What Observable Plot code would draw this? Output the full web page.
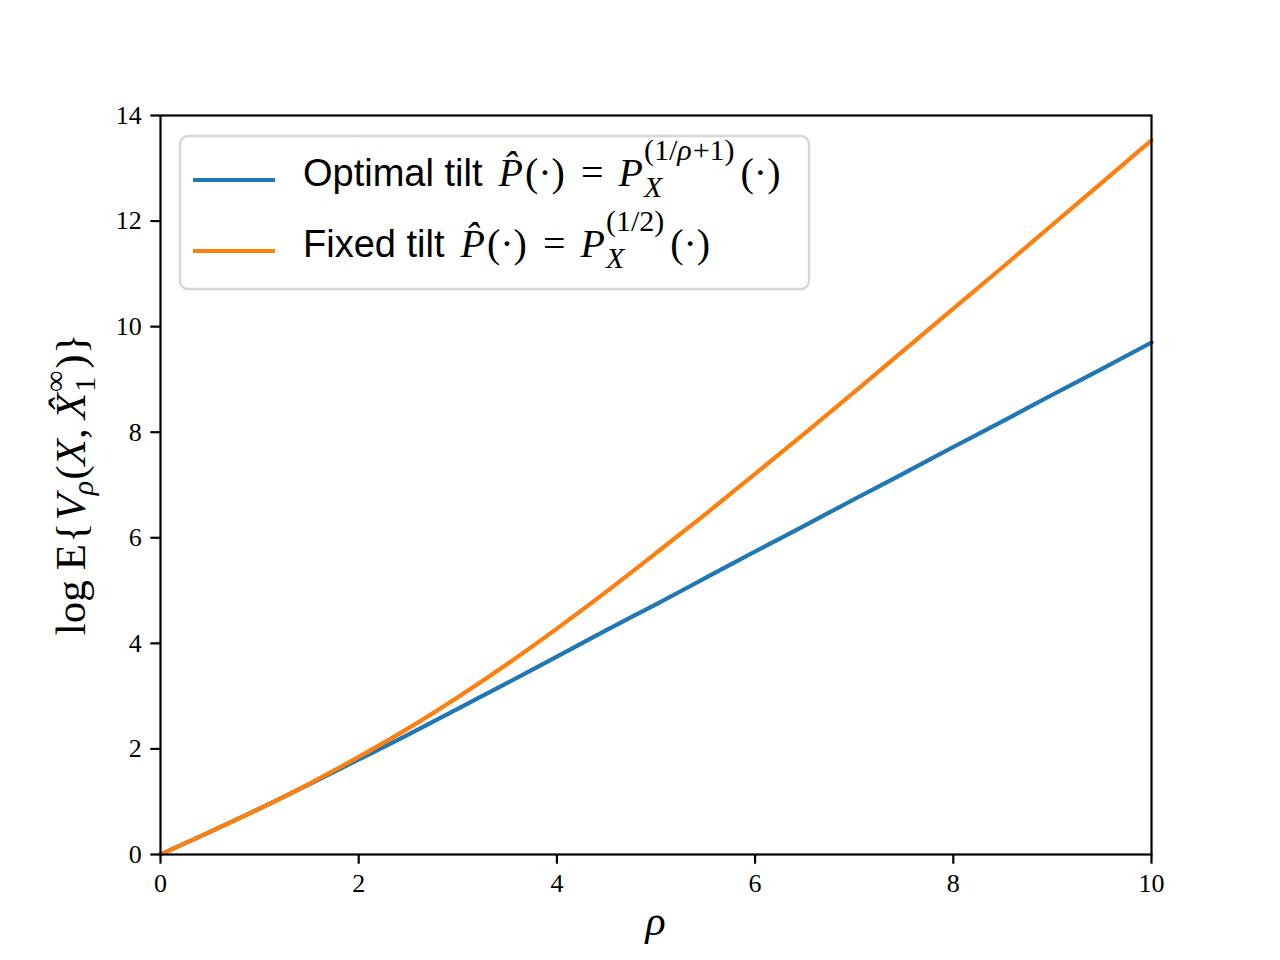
<!DOCTYPE html>
<html><head><meta charset="utf-8">
<script src="https://cdn.jsdelivr.net/npm/d3@7"></script>
<script src="https://cdn.jsdelivr.net/npm/@observablehq/plot@0.6"></script>
<style>body{margin:0;background:#fff;} #chart{position:relative;width:1280px;height:960px;}</style>
</head><body><div id="chart"></div>
<script>
// ---- data ----
const rho = [0,0.5,1,1.5,2,2.5,3,3.5,4,4.5,5,5.5,6,6.5,7,7.5,8,8.5,9,9.5,10];
const optimalTilt = [0,0.43,0.87,1.33,1.80,2.27,2.76,3.25,3.75,4.25,4.74,5.24,5.74,6.23,6.73,7.22,7.72,8.21,8.71,9.20,9.70];
const fixedTilt = [0,0.43,0.87,1.34,1.85,2.39,2.98,3.61,4.28,4.98,5.71,6.45,7.21,7.98,8.76,9.55,10.34,11.13,11.93,12.73,13.53];
const xTicks = [0,2,4,6,8,10];
const yTicks = [0,2,4,6,8,10,12,14];
const seriesColors = ["#1f77b4", "#ff7f0e"];

const optData = rho.map((r,i)=>({rho:r, v:optimalTilt[i]}));
const fixData = rho.map((r,i)=>({rho:r, v:fixedTilt[i]}));

const SANS = "'Liberation Sans', Arial, sans-serif";
const SERIF = "'Liberation Serif', 'Times New Roman', serif";

const plot = Plot.plot({
  width: 1280, height: 960,
  marginLeft: 160, marginRight: 129, marginTop: 115, marginBottom: 106,
  style: {fontFamily: SERIF, fontSize: "26px", color: "black", background: "white", overflow: "visible"},
  x: {domain: [0, 10]},
  y: {domain: [0, 14]},
  marks: [
    Plot.line(optData, {x: "rho", y: "v", stroke: seriesColors[0], strokeWidth: 4.2, curve: "monotone-x"}),
    Plot.line(fixData, {x: "rho", y: "v", stroke: seriesColors[1], strokeWidth: 4.2, curve: "monotone-x"}),
    Plot.frame({stroke: "black", strokeWidth: 2.2}),
    Plot.axisX({ticks: xTicks, tickSize: 9.7, tickPadding: 9, strokeWidth: 2.2, label: null, fontSize: 26}),
    Plot.axisY({ticks: yTicks, tickSize: 9.7, tickPadding: 9, strokeWidth: 2.2, label: null, fontSize: 26})
  ]
});
document.getElementById("chart").appendChild(plot);
const svg = d3.select(plot);

function drawMath(g, segs) {
  let cx = 0;
  for (const s of segs) {
    const t = g.append("text")
      .attr("x", cx + (s.dx || 0)).attr("y", s.dy || 0)
      .attr("font-family", s.f || SERIF).attr("font-size", s.s || 40)
      .attr("font-style", s.i ? "italic" : "normal")
      .attr("text-anchor", "start").attr("fill", "black")
      .text(s.t);
    const w = t.node().getComputedTextLength();
    if (s.adv !== false) cx += (s.dx || 0) + w + (s.after || 0);
  }
  return cx;
}

// ---- legend ----
const lg = svg.append("g");
lg.append("rect").attr("x", 180).attr("y", 136).attr("width", 629).attr("height", 153)
  .attr("rx", 8).attr("fill", "white").attr("fill-opacity", 0.8)
  .attr("stroke", "#cccccc").attr("stroke-opacity", 0.8).attr("stroke-width", 2.4);
const legendRows = [
  {color: seriesColors[0], y: 180, base: 186, name: "Optimal tilt",
   sup: [{t:"(1/", s:30, dy:-26},{t:"ρ", s:30, dy:-26, i:true, after:1},{t:"+1)", s:30, dy:-26, after:6}]},
  {color: seriesColors[1], y: 251, base: 257, name: "Fixed tilt",
   sup: [{t:"(1/2)", s:30, dy:-26, after:6}]}
];
for (const r of legendRows) {
  lg.append("line").attr("x1", 193).attr("x2", 275).attr("y1", r.y).attr("y2", r.y)
    .attr("stroke", r.color).attr("stroke-width", 4.2);
  const g = lg.append("g").attr("transform", `translate(303,${r.base})`);
  drawMath(g, [
    {t: r.name, f: SANS, s: 38, after: 16},
    {t: "P\u0302", s: 40, i: true, after: 2},
    {t: "(·)", s: 40, after: 16},
    {t: "=", s: 40, after: 15},
    {t: "P", s: 40, i: true, after: 1},
    {t: "X", s: 30, i: true, dy: 11, adv: false},
    ...r.sup,
    {t: "(·)", s: 40}
  ]);
}

// ---- x label ----
{
  const g = svg.append("g");
  const w = drawMath(g, [{t: "ρ", s: 42, i: true}]);
  g.attr("transform", `translate(${655.5 - w/2},935)`);
}
// ---- y label ----
{
  const g = svg.append("g");
  const w = drawMath(g, [
    {t: "log", s: 43, after: 10},
    {t: "E", s: 43, after: 1},
    {t: "{", s: 43, after: 2},
    {t: "V", s: 43, i: true, after: -1},
    {t: "ρ", s: 30, i: true, dy: 8, after: 1},
    {t: "(", s: 43},
    {t: "X", s: 43, i: true},
    {t: ",", s: 43, after: 9},
    {t: "X\u0302", s: 43, i: true, after: 1},
    {t: "1", s: 30, dy: 10, adv: false},
    {t: "∞", s: 30, dy: -20, after: 2},
    {t: ")", s: 43},
    {t: "}", s: 43}
  ]);
  g.attr("transform", `translate(85,484.5) rotate(-90) translate(${-w/2},0)`);
}
</script>
</body></html>
